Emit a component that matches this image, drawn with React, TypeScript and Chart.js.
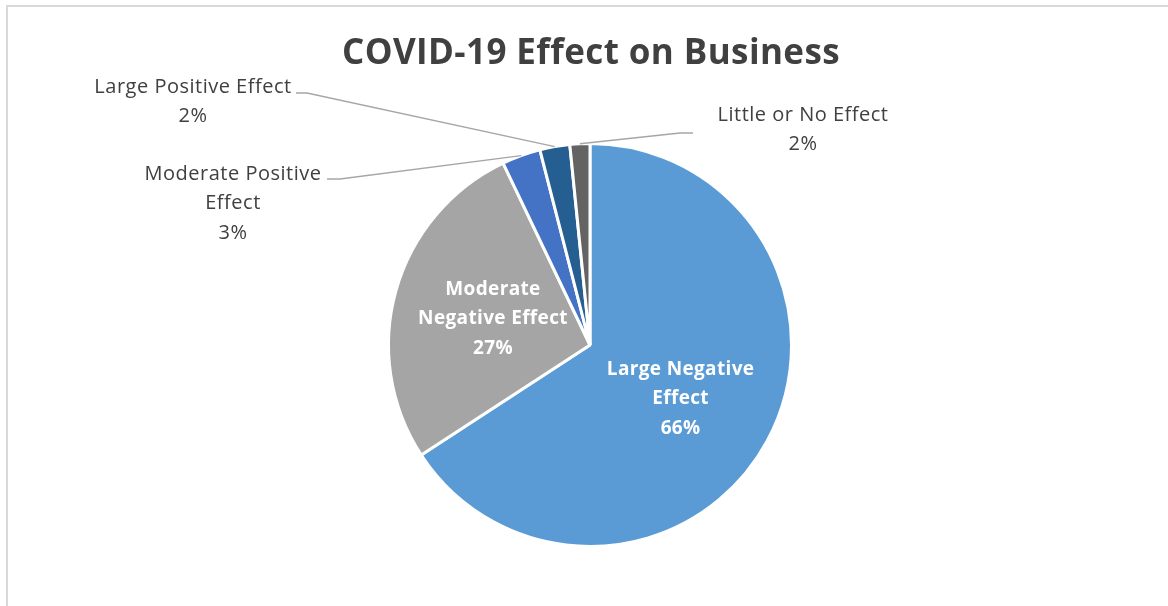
import { useEffect, useRef } from "react";
import { Chart, registerables } from "chart.js";

Chart.register(...registerables);

const TITLE = "COVID-19 Effect on Business";
const categories = [
  "Large Negative Effect",
  "Moderate Negative Effect",
  "Moderate Positive Effect",
  "Large Positive Effect",
  "Little or No Effect",
];
const shares = [65.8, 27.1, 3.1, 2.4, 1.6];
const sliceColors = ["#5B9BD5", "#A5A5A5", "#4472C4", "#255E91", "#636363"];
const labelLines = [
  ["Large Negative", "Effect"],
  ["Moderate", "Negative Effect"],
  ["Moderate Positive", "Effect"],
  ["Large Positive Effect"],
  ["Little or No Effect"],
];
const labelInside = [true, true, false, false, false];

// inside-label nudges (px) from the slice's centroid
const insideNudge: Record<number, [number, number]> = { 0: [2, 6], 1: [0, 1] };
// outside-label placement, offsets from pie centre (px): text centre, leader elbow, leader end
const outsideText: Record<number, [number, number]> = { 2: [-357, -172], 3: [-397, -259], 4: [213, -231] };
const outsideElbow: Record<number, [number, number]> = { 2: [-250, -166], 3: [-283, -252], 4: [90, -212] };
const outsideEnd: Record<number, [number, number]> = { 2: [-263, -166], 3: [-294, -252], 4: [103, -212] };

const FONT = "'Open Sans', Lato, sans-serif";
const TEXT_COLOR = "#404040";

function setSpacing(ctx: any, v: string) {
  if ("letterSpacing" in ctx) ctx.letterSpacing = v;
}

const decorPlugin = {
  id: "decor",
  beforeDraw(chart: any) {
    const { ctx, width, height } = chart;
    ctx.save();
    ctx.fillStyle = "#ffffff";
    ctx.fillRect(0, 0, width, height);
    ctx.fillStyle = "#D9D9D9";
    ctx.fillRect(6, 5, 2, height);
    ctx.fillRect(6, 5, width, 2);
    ctx.restore();
  },
  afterDatasetsDraw(chart: any) {
    const { ctx } = chart;
    const meta = chart.getDatasetMeta(0);
    const total = shares.reduce((a, b) => a + b, 0);
    ctx.save();
    // title
    ctx.fillStyle = TEXT_COLOR;
    ctx.font = `bold 35px ${FONT}`;
    setSpacing(ctx, "0.4px");
    ctx.textAlign = "center";
    ctx.textBaseline = "alphabetic";
    const cx0 = (chart.chartArea.left + chart.chartArea.right) / 2;
    ctx.fillText(TITLE, cx0 + 1, 64);

    meta.data.forEach((arc: any, i: number) => {
      const p = arc.getProps(["x", "y", "startAngle", "endAngle", "outerRadius"], true);
      const pct = Math.round((shares[i] / total) * 100) + "%";
      const lines = [...labelLines[i], pct];
      ctx.textAlign = "center";
      ctx.textBaseline = "middle";
      if (labelInside[i]) {
        const pos = arc.tooltipPosition(true);
        const nd = insideNudge[i] || [0, 0];
        ctx.fillStyle = "#ffffff";
        ctx.font = `bold 19px ${FONT}`;
        setSpacing(ctx, "0.35px");
        const lh = 29.5;
        const y0 = pos.y + nd[1] - ((lines.length - 1) * lh) / 2;
        lines.forEach((t, k) => ctx.fillText(t, pos.x + nd[0], y0 + k * lh));
      } else {
        const mid = (p.startAngle + p.endAngle) / 2;
        const ex = p.x + Math.cos(mid) * p.outerRadius;
        const ey = p.y + Math.sin(mid) * p.outerRadius;
        const el = outsideElbow[i];
        const en = outsideEnd[i];
        ctx.strokeStyle = "#A6A6A6";
        ctx.lineWidth = 1.5;
        ctx.beginPath();
        ctx.moveTo(ex, ey);
        ctx.lineTo(p.x + el[0], p.y + el[1]);
        ctx.lineTo(p.x + en[0], p.y + en[1]);
        ctx.stroke();
        const tp = outsideText[i];
        ctx.fillStyle = TEXT_COLOR;
        ctx.font = `20px ${FONT}`;
        setSpacing(ctx, "0.5px");
        const lh = 29.5;
        lines.forEach((t, k) => ctx.fillText(t, p.x + tp[0], p.y + tp[1] + 1 + k * lh));
      }
    });
    ctx.restore();
  },
};

export default function App() {
  const ref = useRef<HTMLCanvasElement | null>(null);
  useEffect(() => {
    if (!ref.current) return;
    const chart = new Chart(ref.current, {
      type: "pie",
      data: {
        labels: categories,
        datasets: [
          {
            data: shares,
            backgroundColor: sliceColors,
            borderColor: "#ffffff",
            borderWidth: 3,
          },
        ],
      },
      options: {
        animation: false,
        responsive: false,
        devicePixelRatio: 1,
        layout: { padding: { left: 387, right: 375, top: 141, bottom: 57 } },
        plugins: {
          legend: { display: false },
          tooltip: { enabled: false },
          title: { display: false },
        },
      },
      plugins: [decorPlugin],
    });
    return () => chart.destroy();
  }, []);
  return (
    <div style={{ position: "fixed", left: 0, top: 0, width: 1168, height: 606, background: "#fff" }}>
      <canvas ref={ref} width={1168} height={606} />
    </div>
  );
}
